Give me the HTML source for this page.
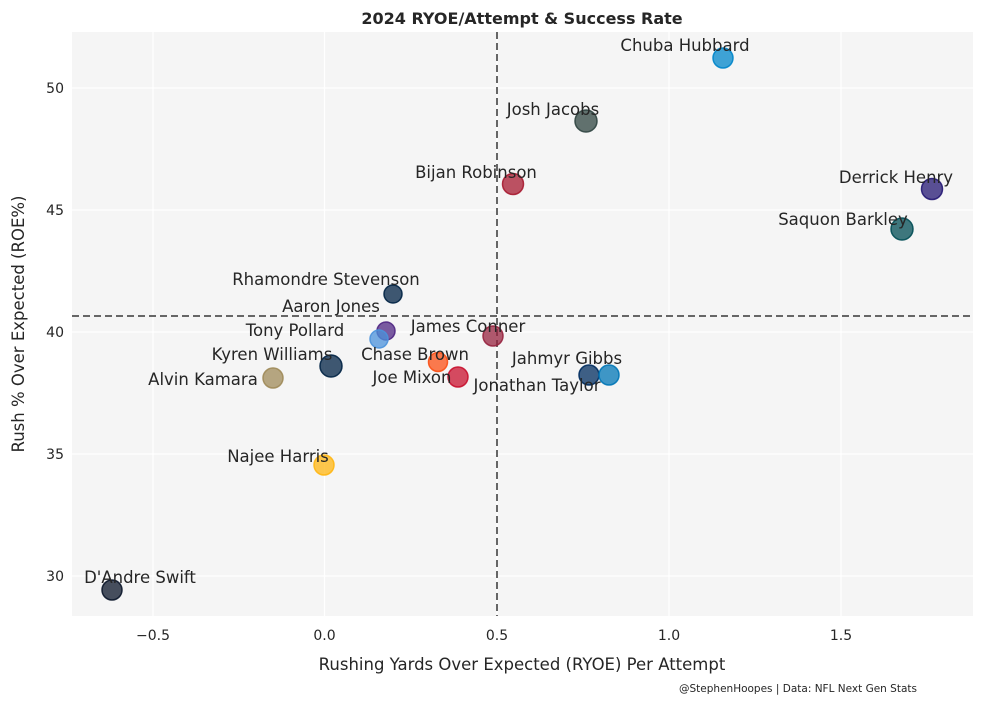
<!DOCTYPE html>
<html><head><meta charset="utf-8"><style>
body{margin:0;background:#fff;}
text{font-family:"DejaVu Sans","Liberation Sans",sans-serif;fill:#262626;}
</style></head><body>
<svg width="984" height="704" xmlns="http://www.w3.org/2000/svg">
<rect width="984" height="704" fill="#fff"/>
<rect x="72" y="32" width="901" height="584" fill="#f5f5f5"/>
<g stroke="#fff" stroke-width="1.2">
<line x1="153" y1="32" x2="153" y2="616"/><line x1="324.5" y1="32" x2="324.5" y2="616"/>
<line x1="497" y1="32" x2="497" y2="616"/><line x1="669" y1="32" x2="669" y2="616"/>
<line x1="841" y1="32" x2="841" y2="616"/>
<line x1="72" y1="88" x2="973" y2="88"/><line x1="72" y1="210" x2="973" y2="210"/>
<line x1="72" y1="332" x2="973" y2="332"/><line x1="72" y1="454" x2="973" y2="454"/>
<line x1="72" y1="576" x2="973" y2="576"/>
</g>
<g stroke="#666" stroke-width="2" stroke-dasharray="7,4">
<line x1="497" y1="32" x2="497" y2="616"/><line x1="72" y1="316" x2="973" y2="316"/>
</g>
<g fill-opacity="0.75" stroke-width="1.5" stroke-opacity="0.9">
<circle cx="723" cy="58" r="10" fill="#0085ca" stroke="#0085ca"/>
<circle cx="586" cy="121" r="11" fill="#2f4440" stroke="#2f4440"/>
<circle cx="513" cy="184" r="10.5" fill="#a71930" stroke="#a71930"/>
<circle cx="932" cy="189" r="10.5" fill="#241773" stroke="#241773"/>
<circle cx="902" cy="229" r="11" fill="#004c54" stroke="#004c54"/>
<circle cx="393" cy="294" r="9" fill="#002244" stroke="#002244"/>
<circle cx="386" cy="331" r="9" fill="#4f2683" stroke="#4f2683"/>
<circle cx="379" cy="339" r="9" fill="#4b92db" stroke="#4b92db"/>
<circle cx="493" cy="336" r="10" fill="#97233f" stroke="#97233f"/>
<circle cx="331" cy="366" r="11" fill="#002244" stroke="#002244"/>
<circle cx="438" cy="362" r="9.5" fill="#fb4f14" stroke="#fb4f14"/>
<circle cx="458" cy="377" r="10" fill="#c8102e" stroke="#c8102e"/>
<circle cx="273" cy="378" r="10" fill="#9f8958" stroke="#9f8958"/>
<circle cx="589" cy="375" r="10" fill="#002c5f" stroke="#002c5f"/>
<circle cx="609" cy="375" r="10" fill="#0076b6" stroke="#0076b6"/>
<circle cx="324" cy="465" r="10" fill="#ffb612" stroke="#ffb612"/>
<circle cx="112" cy="590" r="10" fill="#0b162a" stroke="#0b162a"/>
</g>
<g font-size="16.5" text-anchor="middle">
<text x="685" y="51">Chuba Hubbard</text>
<text x="553" y="115">Josh Jacobs</text>
<text x="476" y="178">Bijan Robinson</text>
<text x="896" y="183">Derrick Henry</text>
<text x="843" y="225">Saquon Barkley</text>
<text x="326" y="285">Rhamondre Stevenson</text>
<text x="331" y="312">Aaron Jones</text>
<text x="295" y="336">Tony Pollard</text>
<text x="468" y="332">James Conner</text>
<text x="272" y="360">Kyren Williams</text>
<text x="415" y="360">Chase Brown</text>
<text x="412" y="383">Joe Mixon</text>
<text x="203" y="385">Alvin Kamara</text>
<text x="567" y="364">Jahmyr Gibbs</text>
<text x="537" y="391">Jonathan Taylor</text>
<text x="278" y="462">Najee Harris</text>
<text x="140" y="583">D'Andre Swift</text>
</g>
<g font-size="14" text-anchor="middle">
<text x="153" y="640">−0.5</text><text x="324.5" y="640">0.0</text>
<text x="497" y="640">0.5</text><text x="669" y="640">1.0</text><text x="841" y="640">1.5</text>
</g>
<g font-size="14" text-anchor="end">
<text x="64" y="93">50</text><text x="64" y="215">45</text><text x="64" y="337">40</text>
<text x="64" y="459">35</text><text x="64" y="581">30</text>
</g>
<text x="522" y="670" font-size="16.5" text-anchor="middle">Rushing Yards Over Expected (RYOE) Per Attempt</text>
<text transform="translate(24,324) rotate(-90)" font-size="16.5" text-anchor="middle">Rush % Over Expected (ROE%)</text>
<text x="522" y="24" font-size="16" font-weight="bold" text-anchor="middle">2024 RYOE/Attempt &amp; Success Rate</text>
<text x="798" y="692" font-size="10.5" text-anchor="middle">@StephenHoopes | Data: NFL Next Gen Stats</text>
</svg>
</body></html>
